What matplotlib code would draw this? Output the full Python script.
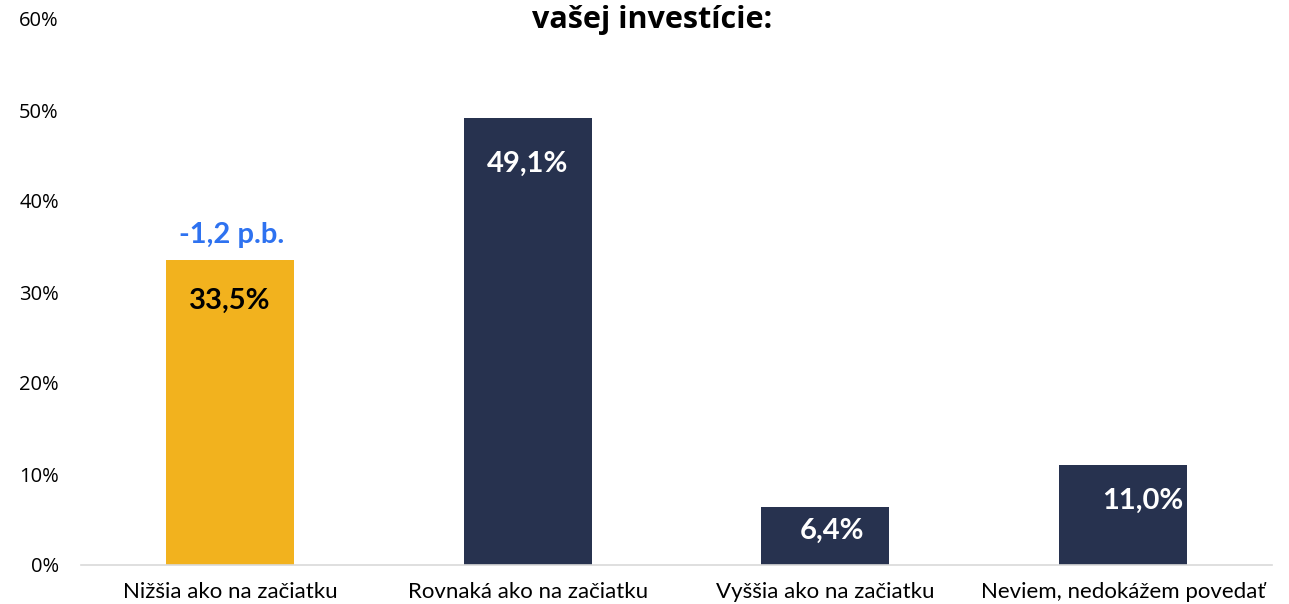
import matplotlib
matplotlib.use("Agg")
import matplotlib.pyplot as plt
from matplotlib.ticker import FuncFormatter

categories = ["Nižšia ako na začiatku", "Rovnaká ako na začiatku",
              "Vyššia ako na začiatku", "Neviem, nedokážem povedať"]
values = [33.5, 49.1, 6.4, 11.0]
value_labels = ["33,5%", "49,1%", "6,4%", "11,0%"]
change_label = "-1,2 p.b."
y_ticks = [0, 10, 20, 30, 40, 50, 60]

colors = ["#F2B21E", "#27324F", "#27324F", "#27324F"]
label_colors = ["#000000", "#FFFFFF", "#FFFFFF", "#FFFFFF"]
label_dy = [-29, -33, -17, -26]   # points below bar top
label_dx = [0, 0, 5, 14]          # points

fig = plt.figure(figsize=(12.89, 6.04), dpi=100)
ax = fig.add_axes([81/1289, 39/604, (1272-81)/1289, (585-39)/604])

x = list(range(len(categories)))
ax.bar(x, values, width=0.43, color=colors, zorder=2)
ax.set_xlim(-0.5, len(categories) - 0.5)
ax.set_ylim(0, 60)
ax.set_yticks(y_ticks)
ax.yaxis.set_major_formatter(FuncFormatter(lambda v, p: f"{int(v)}%"))
ax.set_xticks(x)
ax.set_xticklabels(categories, fontfamily="Lato", fontsize=16, color="#000000")
for t in ax.get_yticklabels():
    t.set_fontfamily("Open Sans")
    t.set_fontsize(14.5)
    t.set_color("#000000")
ax.tick_params(axis="both", length=0)
ax.tick_params(axis="x", pad=12)
ax.tick_params(axis="y", pad=16)
for s in ["top", "right", "left"]:
    ax.spines[s].set_visible(False)
ax.spines["bottom"].set_color("#D9D9D9")
ax.spines["bottom"].set_linewidth(1.2)

for i, v in enumerate(values):
    ax.annotate(value_labels[i], (x[i], v), xytext=(label_dx[i], label_dy[i]),
                textcoords="offset points", ha="center", va="center",
                fontfamily="Lato", fontweight="bold", fontsize=21,
                color=label_colors[i])

ax.annotate(change_label, (x[0], values[0]), xytext=(1, 18),
            textcoords="offset points", ha="center", va="center",
            fontfamily="Lato", fontweight="bold", fontsize=21, color="#2E72F0")

fig.text(652/1289, 1 - 20/604, "vašej investície:", ha="center", va="center",
         fontfamily="Open Sans", fontweight="bold", fontsize=22, color="#000000")

fig.savefig("out.png", dpi=100)
